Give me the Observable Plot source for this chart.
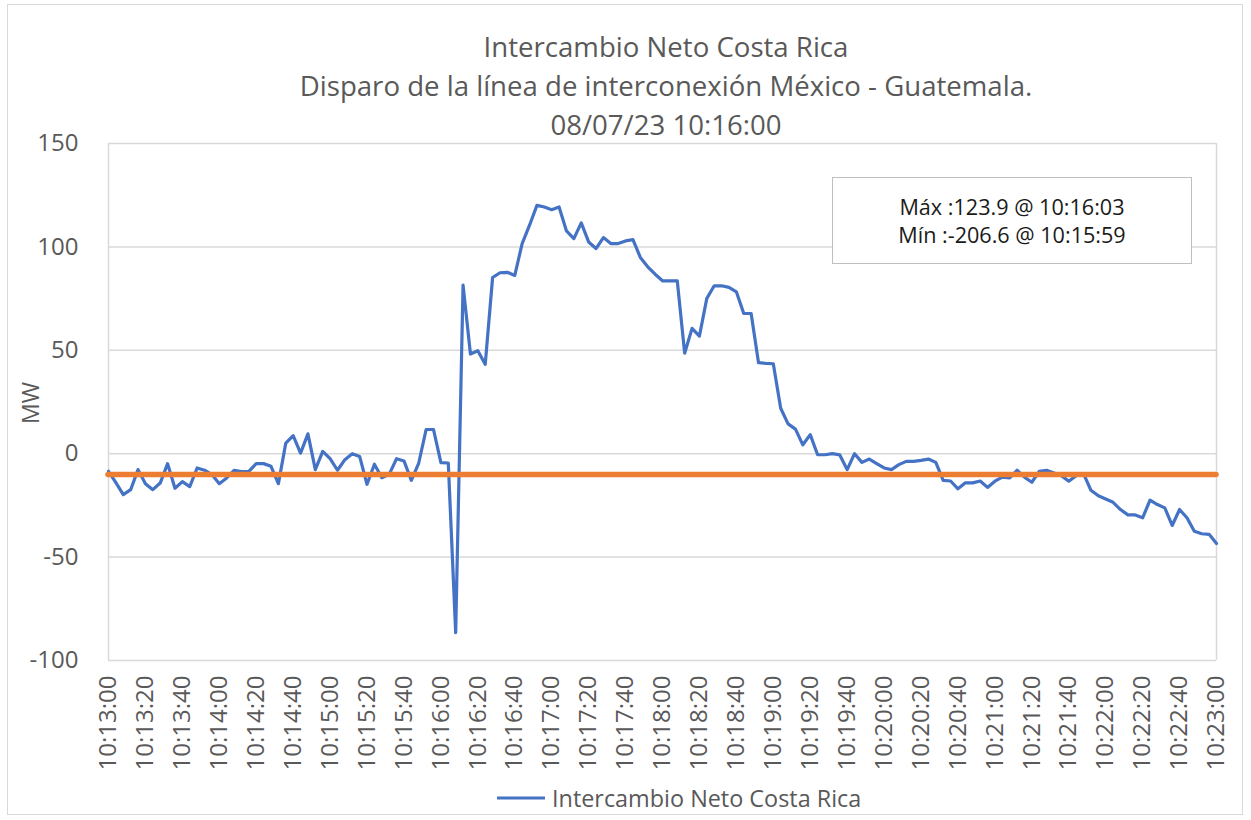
<!DOCTYPE html>
<html>
<head>
<meta charset="utf-8">
<script src="https://cdn.jsdelivr.net/npm/d3@7"></script>
<script src="https://cdn.jsdelivr.net/npm/@observablehq/plot@0.6"></script>
<style>
  html, body { margin: 0; padding: 0; background: #fff; }
  body { width: 1251px; height: 820px; position: relative; overflow: hidden; font-family: "Open Sans", sans-serif; }
  #frame { position: absolute; left: 7px; top: 4px; width: 1236px; height: 811px; border: 1.5px solid #d9d9d9; box-sizing: border-box; }
  #title { position: absolute; left: 266px; width: 800px; top: 27px; text-align: center; color: #595959; font-size: 27.6px; line-height: 39px; }
  #chart { position: absolute; left: 0; top: 130px; }
  #ylabel { position: absolute; left: 30px; top: 403px; transform: translate(-50%, -50%) rotate(-90deg); color: #595959; font-size: 23px; white-space: nowrap; }
  #note { position: absolute; left: 832px; top: 177px; width: 360px; height: 87px; border: 1.5px solid #bfbfbf; box-sizing: border-box; background: #fff; text-align: center; color: #1a1a1a; font-size: 21.6px; line-height: 28px; padding-top: 15px; }
  #legend { position: absolute; top: 782px; left: 497px; display: flex; align-items: center; color: #595959; font-size: 23.4px; white-space: nowrap; }
  #legend svg { margin-right: 7px; }
</style>
</head>
<body>
<div id="frame"></div>
<div id="title"></div>
<div id="chart"></div>
<div id="ylabel"></div>
<div id="note"></div>
<div id="legend"></div>
<script>
// ---- Data ----
const titleLines = [
  "Intercambio Neto Costa Rica",
  "Disparo de la línea de interconexión México - Guatemala.",
  "08/07/23 10:16:00"
];
const seriesName = "Intercambio Neto Costa Rica";
const yAxisLabel = "MW";
const noteLines = ["Máx :123.9 @ 10:16:03", "Mín :-206.6 @ 10:15:59"];

const startTime = "10:13:00";
const sampleSeconds = 4;
const netExchange = [
  -8.5, -14, -19.8, -17.4, -7.7, -14.5, -17.4, -14.2, -4.8, -16.7,
  -13.5, -15.9, -6.9, -8.0, -10.1, -14.5, -11.7, -8.0, -8.7, -8.5,
  -4.8, -4.8, -6.1, -14.5, 5.1, 8.7, 0.3, 9.6, -7.7, 1.1,
  -2.4, -8, -2.9, 0, -1.3, -14.8, -5.1, -11.6, -10, -2.4,
  -3.5, -12.9, -4.5, 11.7, 11.7, -4.3, -4.5, -86.5, 81.5, 48.2,
  49.8, 43.2, 85.2, 87.5, 87.7, 86.2, 101.6, 110.5, 120.1, 119.3,
  118, 119.3, 107.7, 104, 111.6, 102.4, 99.2, 104.5, 101.6, 101.6,
  102.9, 103.5, 94.9, 90.4, 86.8, 83.6, 83.6, 83.6, 48.6, 60.6,
  56.9, 75.1, 81.2, 81.2, 80.4, 78.3, 67.8, 67.8, 44, 43.7,
  43.5, 22, 14.4, 11.9, 4.3, 9.2, -0.5, -0.5, 0, -0.6,
  -7.7, 0, -4.2, -2.6, -4.8, -6.9, -7.7, -5.3, -3.7, -3.7,
  -3.2, -2.6, -4.2, -12.9, -13.2, -17, -14.1, -14.1, -13.2, -16.3,
  -13.3, -11.3, -11.7, -8, -11.3, -13.8, -8.5, -8, -9.3, -10.6,
  -13.3, -10.6, -9.6, -17.7, -20.3, -21.9, -23.5, -27, -29.6, -29.6,
  -31, -22.5, -24.6, -26.2, -34.7, -27, -31, -37.5, -38.7, -39,
  -43.4
];
const referenceLevel = [-10];
const xTickLabels = [
  "10:13:00","10:13:20","10:13:40","10:14:00","10:14:20","10:14:40",
  "10:15:00","10:15:20","10:15:40","10:16:00","10:16:20","10:16:40",
  "10:17:00","10:17:20","10:17:40","10:18:00","10:18:20","10:18:40",
  "10:19:00","10:19:20","10:19:40","10:20:00","10:20:20","10:20:40",
  "10:21:00","10:21:20","10:21:40","10:22:00","10:22:20","10:22:40",
  "10:23:00"
];
const yTicks = [-100, -50, 0, 50, 100, 150];

// ---- Build ----
const toSec = s => { const [h, m, sec] = s.split(":").map(Number); return h * 3600 + m * 60 + sec; };
const t0 = toSec(startTime);
const tickSecs = xTickLabels.map(l => toSec(l) - t0);
const labelBySec = new Map(tickSecs.map((s, i) => [s, xTickLabels[i]]));
const data = netExchange.map((v, i) => ({t: i * sampleSeconds, v}));
const xDomain = [tickSecs[0], tickSecs[tickSecs.length - 1]];

const chart = Plot.plot({
  width: 1251,
  height: 655,
  marginLeft: 108,
  marginRight: 35,
  marginTop: 13,
  marginBottom: 125,
  style: {fontFamily: "'Open Sans', sans-serif", fontSize: "24px", color: "#595959", background: "transparent", overflow: "visible"},
  x: {domain: xDomain, label: null},
  y: {domain: [yTicks[0], yTicks[yTicks.length - 1]], label: null},
  marks: [
    Plot.gridY(yTicks, {stroke: "#d9d9d9", strokeOpacity: 1, strokeWidth: 1.5}),
    Plot.ruleX(xDomain, {stroke: "#d9d9d9", strokeWidth: 1.5}),
    Plot.axisY(yTicks, {tickSize: 0, tickPadding: 30, fontSize: 24, label: null, tickFormat: d => String(d)}),
    Plot.axisX(tickSecs, {tickSize: 0, tickPadding: 15, tickRotate: -90, fontSize: 24, label: null, tickFormat: s => labelBySec.get(s)}),
    Plot.line(data, {x: "t", y: "v", stroke: "#4472C4", strokeWidth: 3.2, strokeLinejoin: "round", strokeLinecap: "round"}),
    Plot.ruleY(referenceLevel, {stroke: "#ED7D31", strokeWidth: 5.5, strokeLinecap: "round"})
  ]
});
document.getElementById("chart").appendChild(chart);

document.getElementById("title").innerHTML = titleLines.map(l => `<div>${l}</div>`).join("");
document.getElementById("ylabel").textContent = yAxisLabel;
document.getElementById("note").innerHTML = noteLines.map(l => `<div>${l}</div>`).join("");
document.getElementById("legend").innerHTML =
  `<svg width="48" height="6"><line x1="0" x2="48" y1="3" y2="3" stroke="#4472C4" stroke-width="3.2"/></svg><span>${seriesName}</span>`;
</script>
</body>
</html>
